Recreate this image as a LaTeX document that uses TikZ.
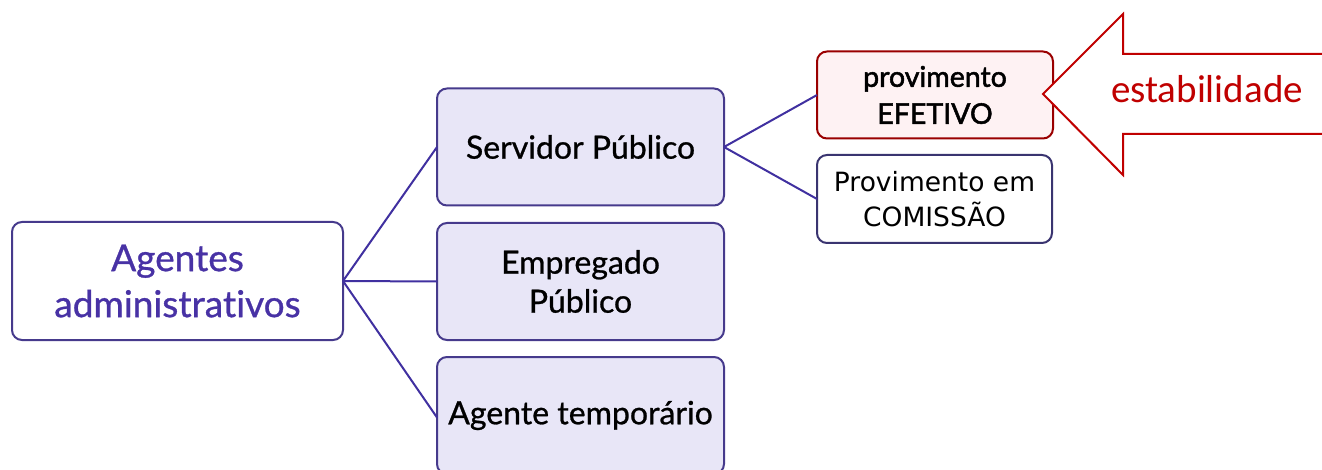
\documentclass[tikz,border=0pt]{standalone}
\usepackage{fontspec}
\setmainfont{Lato}[Ligatures={NoCommon,NoRare}]
\newfontfamily\medfont{Lato}[FakeBold=0.8,Ligatures={NoCommon,NoRare}]
\newfontfamily\demifont{Lato}[FakeBold=1.8,Ligatures={NoCommon,NoRare}]
\newfontfamily\calfont{Carlito}
\newfontfamily\dvfont{DejaVu Sans}
\definecolor{purptxt}{RGB}{72,50,165}
\definecolor{purpline}{RGB}{64,48,160}
\definecolor{boxborder}{RGB}{70,58,140}
\definecolor{lavender}{RGB}{232,230,247}
\definecolor{redc}{RGB}{192,0,0}
\definecolor{pinkfill}{RGB}{254,242,243}
\definecolor{navyb}{RGB}{58,52,112}
\tikzset{
  basebox/.style={rectangle, rounded corners=10pt, line width=2pt, outer sep=0pt, inner sep=0pt, align=center},
  rootbox/.style={basebox, draw=boxborder, fill=white, text=purptxt, minimum width=331pt, minimum height=118pt, font=\medfont\fontsize{37}{46}\selectfont},
  midbox/.style={basebox, draw=boxborder, fill=lavender, text=black, minimum width=287pt, minimum height=117pt, font=\medfont\fontsize{32}{39}\selectfont},
  effbox/.style={basebox, draw=redc!80!black, fill=pinkfill, text=black, minimum width=236pt, minimum height=87pt, font=\demifont\fontsize{28.5}{37}\selectfont},
  combox/.style={basebox, draw=navyb, fill=white, text=black, minimum width=235pt, minimum height=88pt, font=\dvfont\fontsize{26.5}{35}\selectfont},
  conn/.style={draw=purpline, line width=2pt},
  bigarrow/.style={draw=redc, fill=white, line width=2pt, line join=miter}
}
\begin{document}
\begin{tikzpicture}[x=1pt,y=-1pt]
\useasboundingbox (0,0) rectangle (1322,470);
\node[rootbox] (root) at (177.5,281) {Agentes\\administrativos};
\node[midbox] (serv) at (580.5,147) {Servidor Público};
\node[midbox] (emp) at (580.5,281.5) {Empregado\\Público};
\node[midbox] (temp) at (580.5,415.5) {Agente temporário};
\node[effbox] (efet) at (935,95) {provimento\\EFETIVO};
\node[combox] (com) at (934.5,199) {Provimento em\\COMISSÃO};
\draw[conn] (root.east) -- (serv.west);
\draw[conn] (root.east) -- (emp.west);
\draw[conn] (root.east) -- ([yshift=-2pt]temp.west);
\draw[conn] (serv.east) -- (efet.west);
\draw[conn] (serv.east) -- (com.west);
\coordinate (tip) at (1043,94);
\draw[bigarrow] (tip) -- (1123,14) -- (1123,54) -- (1332,54) -- (1332,134) -- (1123,134) -- (1123,175) -- cycle;
\node[text=redc, font=\calfont\fontsize{39}{44}\selectfont, anchor=base, inner sep=0pt] (stab) at (1207,103) {estabilidade};
\end{tikzpicture}
\end{document}
